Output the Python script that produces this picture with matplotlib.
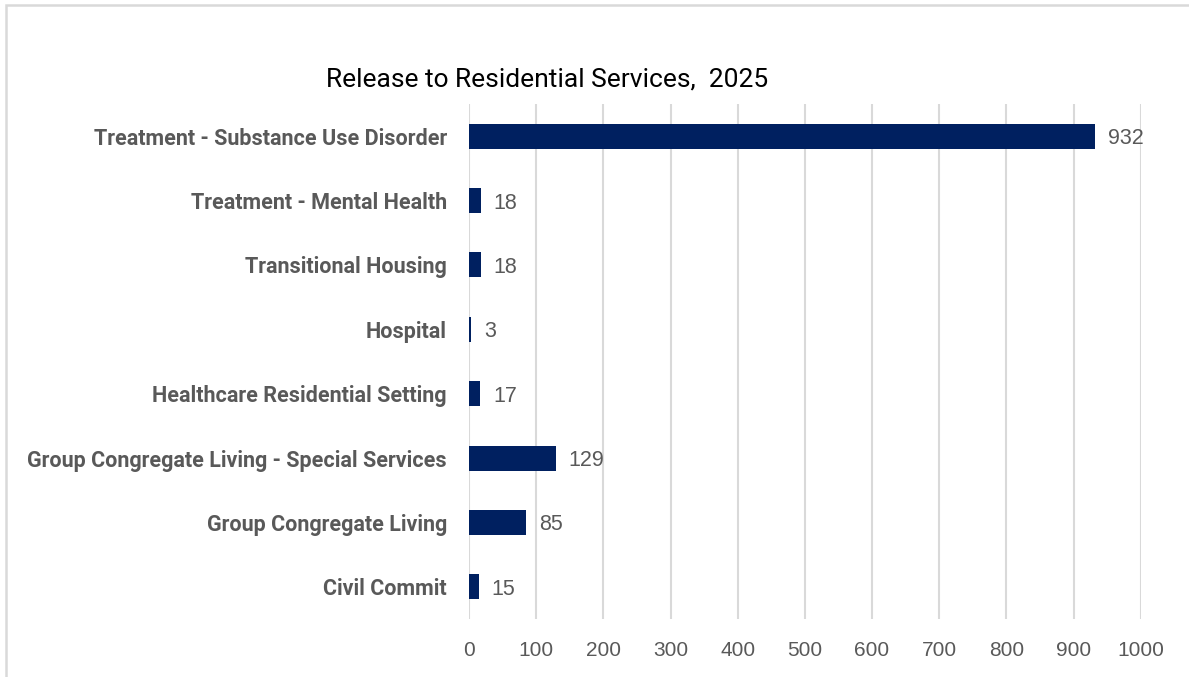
import matplotlib.pyplot as plt
from matplotlib.patches import Rectangle

categories = [
    "Civil Commit",
    "Group Congregate Living",
    "Group Congregate Living - Special Services",
    "Healthcare Residential Setting",
    "Hospital",
    "Transitional Housing",
    "Treatment - Mental Health",
    "Treatment - Substance Use Disorder",
]
counts = [15, 85, 129, 17, 3, 18, 18, 932]
xticks = [0, 100, 200, 300, 400, 500, 600, 700, 800, 900, 1000]

navy = "#002060"
gray = "#595959"
grid_gray = "#d9d9d9"

plt.rcParams["font.family"] = ["Roboto", "DejaVu Sans"]

fig = plt.figure(figsize=(11.89, 6.77), dpi=100)
ax = fig.add_axes([469 / 1189, 1 - 619 / 677, (1140.7 - 469) / 1189, (619 - 104) / 677])

ypos = list(range(len(categories)))
ax.barh(ypos, counts, height=0.39, color=navy, zorder=3)

for y, v in zip(ypos, counts):
    ax.text(v + 19, y, str(v), va="center_baseline", ha="left", fontsize=15.5,
            color=gray, family=["Liberation Sans", "DejaVu Sans"])

ax.set_xlim(0, 1000)
ax.set_ylim(-0.5, len(categories) - 0.5)
ax.set_xticks(xticks)
ax.set_xticklabels([str(t) for t in xticks], fontsize=15, color=gray,
                   family=["Liberation Sans", "DejaVu Sans"])
ax.set_yticks(ypos)
ax.set_yticklabels(categories, fontsize=15.5, fontweight="bold", color=gray)
ax.tick_params(axis="x", length=0, pad=16)
ax.tick_params(axis="y", length=0, pad=16)

ax.grid(axis="x", color=grid_gray, linewidth=1.5, zorder=0)
ax.set_axisbelow(True)
for s in ax.spines.values():
    s.set_visible(False)

fig.text(547 / 1189, 1 - 79 / 677, "Release to Residential Services,  2025",
         ha="center", va="center", fontsize=19, color="black")

# outer frame, open on the right and bottom
fig.patches.append(Rectangle((6 / 1189, -0.2), 1.2, 1.2 - 5 / 677 + 0.0,
                             transform=fig.transFigure, fill=False,
                             edgecolor=grid_gray, linewidth=1.8))

fig.savefig("out.png", dpi=100)
